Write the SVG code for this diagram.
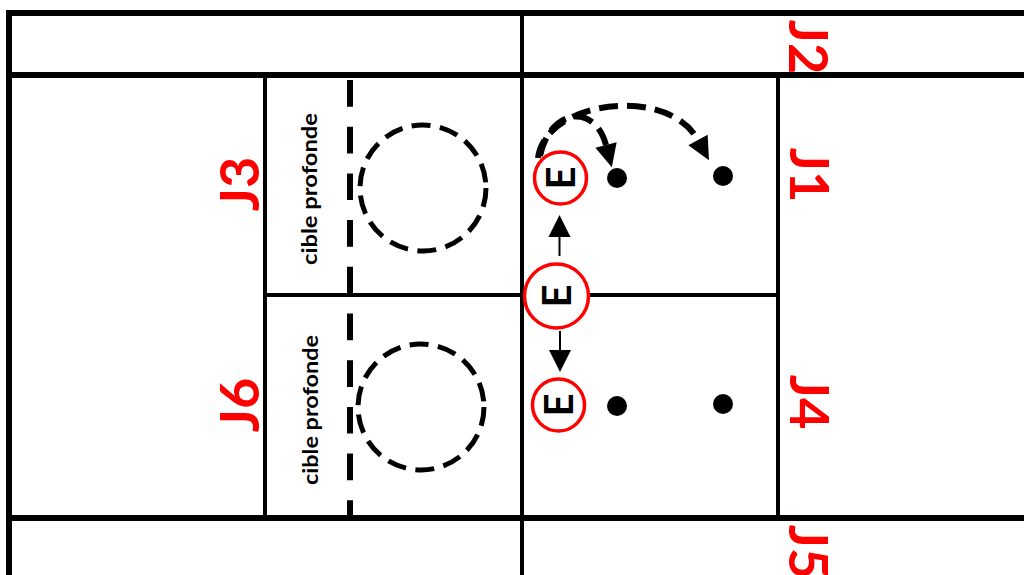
<svg xmlns="http://www.w3.org/2000/svg" width="1024" height="575" viewBox="0 0 1024 575">
<style>
.thick{stroke:#000;stroke-width:6;fill:none}
.thin{stroke:#000;stroke-width:4;fill:none}
.vdash{stroke:#000;stroke-width:6;fill:none;stroke-dasharray:26.7 20}
.target{stroke:#000;stroke-width:5;fill:none;stroke-dasharray:19 9.5}
.ecircle{stroke:#f00;stroke-width:3.5;fill:#fff}
.elabel{font-family:Lato,"Liberation Sans",sans-serif;font-weight:bold;font-size:40px;fill:#000;text-anchor:middle}
.jlabel{font-family:Lato,"Liberation Sans",sans-serif;font-weight:bold;font-size:54px;fill:#f00;text-anchor:middle}
.cible{font-family:Lato,"Liberation Sans",sans-serif;font-weight:bold;font-size:21px;fill:#000;text-anchor:middle}
.dot{fill:#000}
.arc{stroke:#000;stroke-width:6;fill:none;stroke-dasharray:19 9}
.solid{stroke:#000;stroke-width:2;fill:none}
</style>
<defs>
<marker id="headSmall" markerUnits="userSpaceOnUse" markerWidth="22" markerHeight="22" refX="0" refY="11" orient="auto" overflow="visible">
<path d="M0,0 L22,11 L0,22 z" fill="#000"/>
</marker>
<marker id="headArc" markerUnits="userSpaceOnUse" markerWidth="24" markerHeight="22" refX="0" refY="11" orient="auto" overflow="visible">
<path d="M0,0 L23,11 L0,22 z" fill="#000"/>
</marker>
</defs>
<rect width="1024" height="575" fill="#fff"/>
<g id="grid">
<line class="thick" x1="6" y1="13" x2="1024" y2="13"/>
<line class="thick" x1="9" y1="10" x2="9" y2="575"/>
<line class="thick" x1="6" y1="75" x2="1024" y2="75"/>
<line class="thick" x1="6" y1="518" x2="1024" y2="518"/>
<line class="thin" x1="522" y1="13" x2="522" y2="575"/>
<line class="thin" x1="265" y1="75" x2="265" y2="518"/>
<line class="thin" x1="778" y1="75" x2="778" y2="518"/>
<line class="thin" x1="263" y1="295" x2="780" y2="295"/>
<line class="vdash" x1="350" y1="80" x2="350" y2="518"/>
</g>
<g id="target-top">
<circle class="target" cx="423" cy="188" r="63"/>
<text class="cible" transform="translate(317,189) rotate(-90)" x="0" y="0" textLength="152" lengthAdjust="spacingAndGlyphs">cible profonde</text>
</g>
<g id="target-bottom">
<circle class="target" cx="421" cy="407" r="63"/>
<text class="cible" transform="translate(318,410) rotate(-90)" x="0" y="0" textLength="150" lengthAdjust="spacingAndGlyphs">cible profonde</text>
</g>
<g id="labels">
<text class="jlabel" transform="translate(789,47) rotate(90)">J2</text>
<text class="jlabel" transform="translate(790,175) rotate(90)">J1</text>
<text class="jlabel" transform="translate(790,402) rotate(90)">J4</text>
<text class="jlabel" transform="translate(789,552) rotate(90)">J5</text>
<text class="jlabel" transform="translate(259,184) rotate(-90)">J3</text>
<text class="jlabel" transform="translate(259,405) rotate(-90)">J6</text>
</g>
<g id="connectors">
<path class="solid" d="M559.5 256 L559.5 237" marker-end="url(#headSmall)"/>
<path class="solid" d="M560 331 L560 350" marker-end="url(#headSmall)"/>
<path class="arc" d="M540 156 C550 108, 595 103, 606 145" marker-end="url(#headArc)"/>
<path class="arc" d="M538 158 C545 100, 668 85, 698 140" marker-end="url(#headArc)"/>
</g>
<g id="E-top">
<circle class="ecircle" cx="560.5" cy="178" r="26"/>
<text class="elabel" transform="translate(575,178) rotate(-90)">E</text>
</g>
<g id="E-middle">
<circle class="ecircle" cx="556.5" cy="296" r="32"/>
<text class="elabel" transform="translate(571,296) rotate(-90)">E</text>
</g>
<g id="E-bottom">
<circle class="ecircle" cx="558.5" cy="405" r="26"/>
<text class="elabel" transform="translate(573,405) rotate(-90)">E</text>
</g>
<g id="dots">
<circle class="dot" cx="617" cy="178" r="10"/>
<circle class="dot" cx="723" cy="176" r="10"/>
<circle class="dot" cx="617" cy="406" r="10"/>
<circle class="dot" cx="723" cy="404" r="10"/>
</g>
</svg>
